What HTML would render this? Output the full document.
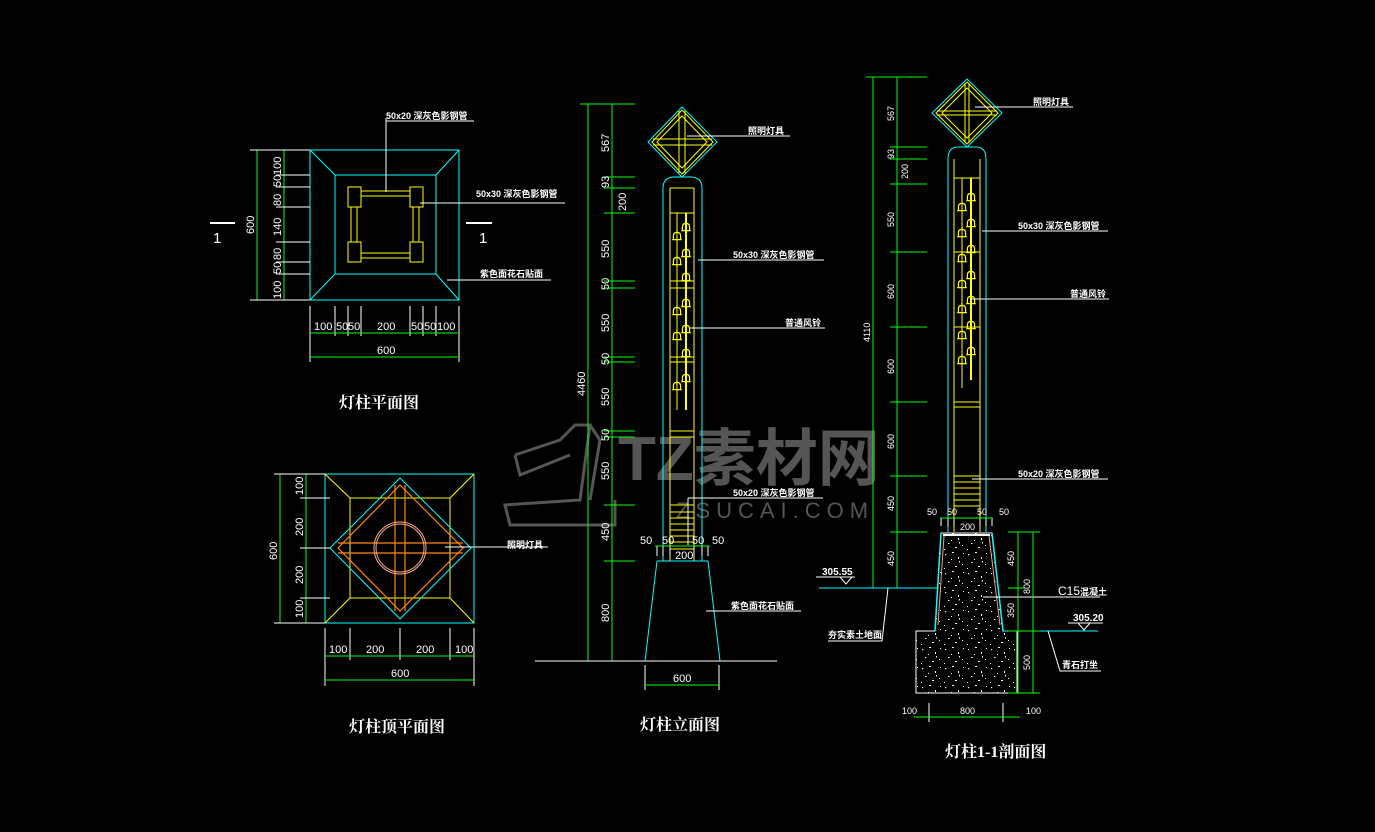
<!DOCTYPE html>
<html><head><meta charset="utf-8"><style>
html,body{margin:0;padding:0;background:#000;}
svg{display:block;}
text{font-family:"Liberation Sans","Noto Sans CJK SC",sans-serif;fill:#fff;}
.d{font-size:11px;}
.s{font-size:9px;font-weight:bold;}
.t{font-size:16px;font-weight:bold;font-family:"Liberation Serif","Noto Serif CJK SC",serif;}
.g{stroke:#0f0;stroke-width:1;fill:none;}
.w{stroke:#fff;stroke-width:1;fill:none;}
.c{stroke:#0ff;stroke-width:1;fill:none;}
.y{stroke:#ff0;stroke-width:1;fill:none;}
.o{stroke:#f80;stroke-width:1.2;fill:none;}
</style></head><body>
<svg width="1375" height="832" viewBox="0 0 1375 832" xmlns="http://www.w3.org/2000/svg">
<defs>
<symbol id="bell" viewBox="0 0 10 10" overflow="visible"><path d="M2,8 L2,5 Q2,2 5,2 Q8,2 8,5 L8,8 Z M1,8 L9,8 M5,0 L5,2" stroke="#ff0" fill="none" stroke-width="1"/></symbol>
<pattern id="spk" width="23" height="19" patternUnits="userSpaceOnUse">
<rect width="23" height="19" fill="#000"/>
<g fill="#fff"><rect x="2" y="3" width="1.2" height="1.2"/><rect x="9" y="1" width="2" height="1"/><rect x="15" y="6" width="1" height="2"/><rect x="5" y="11" width="1.5" height="1"/><rect x="19" y="13" width="1" height="1"/><rect x="12" y="15" width="2" height="1"/><rect x="1" y="17" width="1" height="1"/><rect x="20" y="2" width="1" height="1"/><rect x="8" y="8" width="1" height="1"/><rect x="16" y="10" width="1" height="1.5"/></g>
</pattern>
</defs>

<!-- watermark -->
<g stroke="#555" stroke-width="3" fill="none">
<path d="M515,455 L560,440 L575,425 L590,425 L580,500 L505,505 L510,525 L615,525 L615,500 M515,455 L520,475 L570,455 M590,425 L600,440 L590,500"/>
</g>
<text x="618" y="480" style="font-size:62px;font-weight:bold;fill:#555;font-family:'Liberation Sans','Noto Sans CJK SC',sans-serif;">TZ素材网</text>
<text x="676" y="518" style="font-size:22px;fill:#555;letter-spacing:6px;">ZSUCAI.COM</text>

<!-- ========== PLAN 1 ========== -->
<rect x="310" y="150" width="149" height="150" class="c"/>
<rect x="335" y="175" width="101" height="99" class="c"/>
<path d="M310,150 L335,175 M459,150 L436,175 M310,300 L335,274 M459,300 L436,274" class="c"/>
<g class="y">
<rect x="348" y="187" width="13" height="20"/><rect x="410" y="187" width="13" height="20"/>
<rect x="348" y="242" width="13" height="20"/><rect x="410" y="242" width="13" height="20"/>
<rect x="361" y="191" width="49" height="5"/><rect x="361" y="253" width="49" height="5"/>
<rect x="351" y="207" width="6" height="35"/><rect x="413" y="207" width="6" height="35"/>
</g>
<path d="M257,150 V300 M284,150 V300" class="g"/>
<path d="M250,150 H310 M276,175 H310 M276,187 H310 M276,207 H310 M276,242 H310 M276,262 H310 M276,274 H310 M250,300 H310" class="w"/>
<g class="d">
<text transform="translate(281,175) rotate(-90)">100</text>
<text transform="translate(281,187) rotate(-90)">50</text>
<text transform="translate(281,206) rotate(-90)">80</text>
<text transform="translate(281,236) rotate(-90)">140</text>
<text transform="translate(281,260) rotate(-90)">80</text>
<text transform="translate(281,274) rotate(-90)">50</text>
<text transform="translate(281,299) rotate(-90)">100</text>
<text transform="translate(254,234) rotate(-90)">600</text>
</g>
<path d="M310,306 V362 M335,306 V336 M348,306 V336 M361,306 V336 M410,306 V336 M423,306 V336 M436,306 V336 M459,306 V362" class="w"/>
<path d="M310,333 H459 M310,357 H459" class="g"/>
<g class="d"><text x="314" y="330">100</text><text x="336" y="330">50</text><text x="348" y="330">50</text><text x="377" y="330">200</text><text x="411" y="330">50</text><text x="424" y="330">50</text><text x="437" y="330">100</text><text x="377" y="354">600</text></g>
<path d="M210,223 H235 M466,223 H492" stroke="#fff" stroke-width="2"/>
<text x="213" y="243" style="font-size:15px">1</text><text x="479" y="243" style="font-size:15px">1</text>
<path d="M386,118 V192 M386,121 H474 M420,203 H565 M447,280 H551" class="w"/>
<text x="386" y="119" class="s">50x20  深灰色影钢管</text>
<text x="476" y="197" class="s">50x30   深灰色影钢管</text>
<text x="480" y="277" class="s">紫色面花石贴面</text>
<text x="339" y="408" class="t">灯柱平面图</text>

<!-- ========== TOP PLAN ========== -->
<rect x="325" y="474" width="149" height="149" class="c"/>
<rect x="350" y="498" width="100" height="100" class="y"/>
<path d="M325,474 L350,498 M474,474 L450,498 M325,623 L350,598 M474,623 L450,598" class="y"/>
<path d="M400,478 L471,548 L400,619 L330,548 Z" class="c"/>
<path d="M400,485 L463,548 L400,611 L338,548 Z" class="o"/>
<path d="M395,485 V611 M405,485 V611 M338,543 H463 M338,553 H463" class="o"/>
<circle cx="400" cy="548" r="24" fill="none" stroke="#fa8" stroke-width="1"/>
<circle cx="400" cy="548" r="26" fill="none" stroke="#fa8" stroke-width="1"/>
<path d="M280,474 V623 M306,474 V623" class="g"/>
<path d="M274,474 H325 M300,498 H330 M300,548 H330 M300,598 H330 M274,623 H325" class="w"/>
<g class="d">
<text transform="translate(303,495) rotate(-90)">100</text>
<text transform="translate(303,536) rotate(-90)">200</text>
<text transform="translate(303,584) rotate(-90)">200</text>
<text transform="translate(303,618) rotate(-90)">100</text>
<text transform="translate(277,560) rotate(-90)">600</text>
</g>
<path d="M325,628 V686 M350,628 V660 M400,628 V660 M450,628 V660 M474,628 V686" class="w"/>
<path d="M325,656 H474 M325,680 H474" class="g"/>
<g class="d"><text x="329" y="653">100</text><text x="366" y="653">200</text><text x="416" y="653">200</text><text x="455" y="653">100</text><text x="391" y="677">600</text></g>
<path d="M445,547 H548" class="w"/>
<text x="507" y="548" class="s">照明灯具</text>
<text x="349" y="732" class="t">灯柱顶平面图</text>

<!-- ========== ELEVATION ========== -->
<path d="M588,104 V661 M612,104 V661" class="g"/>
<path d="M580,104 H635 M604,177 H635 M604,188 H635 M604,213 H635 M604,281 H635 M604,288 H635 M604,357 H635 M604,362 H635 M604,431 H635 M604,437 H635 M604,505 H635 M604,561 H635" class="g"/>
<g class="d">
<text transform="translate(609,152) rotate(-90)">567</text>
<text transform="translate(609,188) rotate(-90)">93</text>
<text transform="translate(626,211) rotate(-90)">200</text>
<text transform="translate(609,258) rotate(-90)">550</text>
<text transform="translate(609,290) rotate(-90)">50</text>
<text transform="translate(609,332) rotate(-90)">550</text>
<text transform="translate(609,365) rotate(-90)">50</text>
<text transform="translate(609,406) rotate(-90)">550</text>
<text transform="translate(609,441) rotate(-90)">50</text>
<text transform="translate(609,480) rotate(-90)">550</text>
<text transform="translate(609,541) rotate(-90)">450</text>
<text transform="translate(609,622) rotate(-90)">800</text>
<text transform="translate(585,396) rotate(-90)">4460</text>
</g>
<path d="M682,107 L717,142 L682,177 L648,142 Z" class="c"/>
<path d="M682,110 L713,142 L682,174 L652,142 Z M679,111 V173 M685,111 V173 M653,139 H712 M653,145 H712 M682,116 L707,142 L682,168 L657,142 Z" class="y"/>
<path d="M663,188 Q663,177 675,177 H690 Q702,177 702,188" class="c"/>
<path d="M663,188 V561 M702,188 V561" class="c"/>
<path d="M670,188 V561 M694,188 V561 M670,188 H694 M670,213 H694 M670,281 H694 M670,288 H694 M670,357 H694 M670,362 H694 M670,431 H694 M670,437 H694 M670,505 H694 M670,512 H694 M670,518 H694 M670,524 H694 M670,530 H694 M670,536 H694 M670,542 H694 M670,549 H694" class="y"/>
<path d="M677,213 V410" class="y"/>
<path d="M686,213 V410" stroke="#ff0" stroke-width="2"/>
<g>
<use href="#bell" x="671" y="230" width="12" height="12"/><use href="#bell" x="671" y="255" width="12" height="12"/>
<use href="#bell" x="680" y="221" width="12" height="12"/><use href="#bell" x="680" y="247" width="12" height="12"/><use href="#bell" x="680" y="271" width="12" height="12"/>
<use href="#bell" x="671" y="305" width="12" height="12"/><use href="#bell" x="671" y="330" width="12" height="12"/>
<use href="#bell" x="680" y="297" width="12" height="12"/><use href="#bell" x="680" y="323" width="12" height="12"/><use href="#bell" x="680" y="347" width="12" height="12"/>
<use href="#bell" x="671" y="380" width="12" height="12"/><use href="#bell" x="680" y="372" width="12" height="12"/>
</g>
<path d="M657,561 L645,661 M708,561 L720,661 M657,561 H708" class="c"/>
<path d="M535,661 H777" class="w"/>
<path d="M645,665 V690 M719,665 V690" class="w"/><path d="M645,685 H719" class="g"/>
<text x="673" y="682" class="d">600</text>
<path d="M657,546 V556 M663,546 V556 M670,546 V556 M694,546 V556 M702,546 V556 M708,546 V556" class="w"/>
<path d="M655,546 H710" class="g"/>
<g class="d"><text x="640" y="544">50</text><text x="662" y="544">50</text><text x="692" y="544">50</text><text x="712" y="544">50</text><text x="675" y="559">200</text></g>
<path d="M687,136 H790 M698,260 H824 M690,328 H825 M688,498 H823 M688,498 V545 M706,611 H801" class="w"/>
<text x="748" y="134" class="s">照明灯具</text>
<text x="733" y="258" class="s">50x30   深灰色影钢管</text>
<text x="785" y="326" class="s">普通风铃</text>
<text x="733" y="496" class="s">50x20   深灰色影钢管</text>
<text x="731" y="609" class="s">紫色面花石贴面</text>
<text x="640" y="730" class="t">灯柱立面图</text>

<!-- ========== SECTION ========== -->
<path d="M873,77 V588 M897,77 V588" class="g"/>
<path d="M866,77 H927 M890,147 H927 M890,159 H927 M890,184 H927 M890,252 H927 M890,327 H927 M890,402 H927 M890,476 H927 M890,532 H927" class="g"/>
<g class="d">
<text transform="translate(894,121) rotate(-90)" style="font-size:9px">567</text>
<text transform="translate(894,159) rotate(-90)" style="font-size:9px">93</text>
<text transform="translate(908,179) rotate(-90)" style="font-size:9px">200</text>
<text transform="translate(894,227) rotate(-90)" style="font-size:9px">550</text>
<text transform="translate(894,299) rotate(-90)" style="font-size:9px">600</text>
<text transform="translate(894,374) rotate(-90)" style="font-size:9px">600</text>
<text transform="translate(894,449) rotate(-90)" style="font-size:9px">600</text>
<text transform="translate(894,511) rotate(-90)" style="font-size:9px">450</text>
<text transform="translate(894,566) rotate(-90)" style="font-size:9px">450</text>
<text transform="translate(870,342) rotate(-90)" style="font-size:9px">4110</text>
</g>
<path d="M967,79 L1002,113 L967,147 L932,113 Z" class="c"/>
<path d="M967,82 L998,113 L967,144 L936,113 Z M965,83 V143 M969,83 V143 M937,111 H997 M937,115 H997 M967,88 L992,113 L967,138 L942,113 Z" class="y"/>
<path d="M948,159 Q948,147 958,147 H976 Q986,147 986,159" class="c"/>
<path d="M948,159 V532 M986,159 V532" class="c"/>
<path d="M954,159 V532 M980,159 V532 M954,178 H980 M954,252 H980 M954,327 H980 M954,402 H980 M954,407 H980 M954,476 H980 M954,482 H980 M954,488 H980 M954,494 H980 M954,500 H980 M954,506 H980" class="y"/>
<path d="M962,178 V388" class="y"/><path d="M971,178 V380" stroke="#ff0" stroke-width="2"/>
<g>
<use href="#bell" x="956" y="201" width="12" height="12"/><use href="#bell" x="956" y="227" width="12" height="12"/><use href="#bell" x="956" y="252" width="12" height="12"/><use href="#bell" x="956" y="278" width="12" height="12"/><use href="#bell" x="956" y="303" width="12" height="12"/><use href="#bell" x="956" y="329" width="12" height="12"/><use href="#bell" x="956" y="354" width="12" height="12"/>
<use href="#bell" x="965" y="191" width="12" height="12"/><use href="#bell" x="965" y="217" width="12" height="12"/><use href="#bell" x="965" y="243" width="12" height="12"/><use href="#bell" x="965" y="269" width="12" height="12"/><use href="#bell" x="965" y="294" width="12" height="12"/><use href="#bell" x="965" y="319" width="12" height="12"/><use href="#bell" x="965" y="345" width="12" height="12"/>
</g>
<!-- foundation -->
<path d="M941,533 H992 L1003,631 H1017 V693 H916 V631 H935 Z" fill="url(#spk)" stroke="#fff" stroke-width="1"/>
<path d="M941,533 L935,631 M992,533 L1003,631" stroke="#0ff" stroke-width="1.5" fill="none"/>
<path d="M944,536 L938,625 M989,536 L1000,625" stroke="#f97" stroke-width="1" fill="none"/>
<path d="M943,535 H990" stroke="#fff" stroke-width="2"/>
<path d="M819,588 H938 M1004,631 H1098" class="c"/>
<path d="M816,577 H855 M840,577 L846,584 L852,577 M1068,623 H1103 M1078,623 L1084,630 L1090,623" class="w"/>
<text x="822" y="575" class="s" style="font-size:10px">305.55</text>
<text x="1073" y="621" class="s" style="font-size:10px">305.20</text>
<path d="M888,588 L882,641 H828" class="w"/>
<text x="828" y="638" class="s">夯实素土地面</text>
<path d="M1048,631 L1060,671 H1101" class="w"/>
<text x="1062" y="668" class="s">青石打坐</text>
<path d="M983,597 H1100" class="w"/>
<text x="1058" y="595" style="font-size:12px">C15</text><text x="1080" y="595" class="s">混凝土</text>
<path d="M1018,532 V693 M1033,532 V693" class="g"/>
<path d="M1008,532 H1040 M1008,588 H1025 M1008,631 H1040 M1008,693 H1040" class="g"/>
<g class="d" style="font-size:9px">
<text transform="translate(1014,566) rotate(-90)">450</text>
<text transform="translate(1030,594) rotate(-90)">800</text>
<text transform="translate(1014,618) rotate(-90)">350</text>
<text transform="translate(1030,670) rotate(-90)">500</text>
</g>
<path d="M929,703 V722 M1003,703 V722" class="w"/>
<path d="M914,717 H1020" class="g"/>
<g style="font-size:9px" class="d"><text x="902" y="714">100</text><text x="960" y="714">800</text><text x="1026" y="714">100</text></g>
<path d="M941,518 V526 M948,518 V526 M954,518 V526 M980,518 V526 M986,518 V526 M992,518 V526" class="w"/>
<path d="M940,518 H993" class="g"/>
<g class="d" style="font-size:9px"><text x="927" y="515">50</text><text x="947" y="515">50</text><text x="977" y="515">50</text><text x="999" y="515">50</text><text x="960" y="530">200</text></g>
<path d="M975,107 H1073 M982,231 H1108 M970,299 H1109 M972,479 H1108" class="w"/>
<text x="1033" y="105" class="s">照明灯具</text>
<text x="1018" y="229" class="s">50x30   深灰色影钢管</text>
<text x="1070" y="297" class="s">普通风铃</text>
<text x="1018" y="477" class="s">50x20   深灰色影钢管</text>
<text x="945" y="757" class="t">灯柱1-1剖面图</text>
</svg>
</body></html>
